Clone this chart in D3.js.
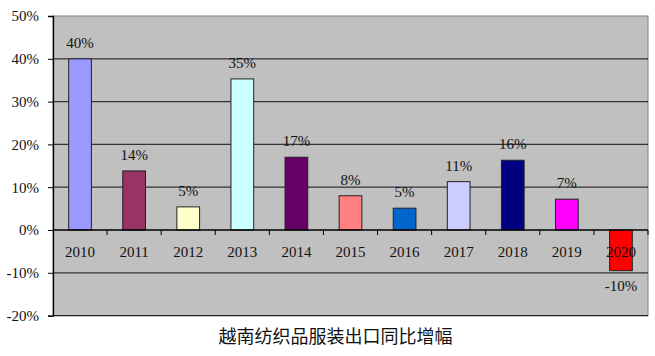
<!DOCTYPE html>
<html><head><meta charset="utf-8">
<script src="https://cdn.jsdelivr.net/npm/d3@7"></script>
<style>body{margin:0;background:#fff}svg{display:block}</style>
</head><body>
<svg id="c" width="655" height="356"></svg>
<script>
const years = ["2010","2011","2012","2013","2014","2015","2016","2017","2018","2019","2020"];
const values = [40, 13.8, 5.4, 35.3, 17, 8, 5.1, 11.3, 16.3, 7.2, -9.5];
const labels = ["40%","14%","5%","35%","17%","8%","5%","11%","16%","7%","-10%"];
const colors = ["#9999FF","#993366","#FFFFCC","#CCFFFF","#660066","#FF8080","#0066CC","#CCCCFF","#000080","#FF00FF","#FF0000"];
const yTicks = [-20,-10,0,10,20,30,40,50];
const title = "越南纺织品服装出口同比增幅";

const SERIF = '"Liberation Serif"';
const svg = d3.select("#c");
const L = 53, R = 648, T = 16, B = 315.6;
const x = d3.scaleBand().domain(years).range([L, R]).paddingInner(0.58).paddingOuter(0.29);
const xb = d3.scaleBand().domain(years).range([L, R]);
const y = d3.scaleLinear().domain([-20, 50]).range([B, T]);

svg.append("rect").attr("x", L).attr("y", T).attr("width", R - L).attr("height", B - T)
  .attr("fill", "#C0C0C0").attr("stroke", "#808080").attr("stroke-width", 1);

// gridlines
svg.append("g").selectAll("line").data(yTicks.filter(d => d !== 0 && d !== 50)).join("line")
  .attr("x1", L).attr("x2", R).attr("y1", d => y(d)).attr("y2", d => y(d))
  .attr("stroke", d => d === -20 ? "#222" : "#333").attr("stroke-width", 1.2);

// y axis
const ya = svg.append("g").attr("transform", `translate(${L},0)`)
  .call(d3.axisLeft(y).tickValues(yTicks).tickSize(5).tickPadding(9).tickFormat(d => d + "%"));
ya.attr("font-family", null).attr("font-size", null);
ya.select(".domain").attr("stroke", "#000").attr("stroke-width", 1.3);
ya.selectAll(".tick line").attr("stroke", "#000");
ya.selectAll("text").style("font-family", SERIF).style("font-size", "15px").attr("fill", "#111");

// bars
svg.append("g").selectAll("rect").data(years).join("rect")
  .attr("x", d => x(d)).attr("width", x.bandwidth())
  .attr("y", (d, i) => y(Math.max(0, values[i])))
  .attr("height", (d, i) => Math.abs(y(values[i]) - y(0)))
  .attr("fill", (d, i) => colors[i]).attr("stroke", "#222").attr("stroke-width", 1);

// x axis at 0
const xa = svg.append("g").attr("transform", `translate(0,${y(0)})`);
xa.append("line").attr("x1", L).attr("x2", R).attr("stroke", "#000").attr("stroke-width", 1.3);
xa.selectAll("line.tk").data(years).join("line").attr("class", "tk")
  .attr("x1", (d, i) => L + xb.step() * (i + 1)).attr("x2", (d, i) => L + xb.step() * (i + 1))
  .attr("y1", 0).attr("y2", 5).attr("stroke", "#000");
xa.selectAll("text").data(years).join("text")
  .attr("x", d => xb(d) + xb.bandwidth() / 2).attr("y", 27)
  .attr("text-anchor", "middle").style("font-family", SERIF).style("font-size", "15px").attr("fill", "#111")
  .text(d => d);

// labels
svg.append("g").selectAll("text").data(years).join("text")
  .attr("x", d => x(d) + x.bandwidth() / 2)
  .attr("y", (d, i) => values[i] >= 0 ? y(values[i]) - 11 : y(values[i]) + 20)
  .attr("text-anchor", "middle").style("font-family", SERIF).style("font-size", "15px").attr("fill", "#111")
  .text((d, i) => labels[i]);

svg.append("text").attr("x", (L + R) / 2 - 15).attr("y", 343).attr("text-anchor", "middle")
  .style("font-family", '"Noto Sans CJK SC"').style("font-size", "18px").attr("fill", "#111")
  .text(title);
</script>
</body></html>
